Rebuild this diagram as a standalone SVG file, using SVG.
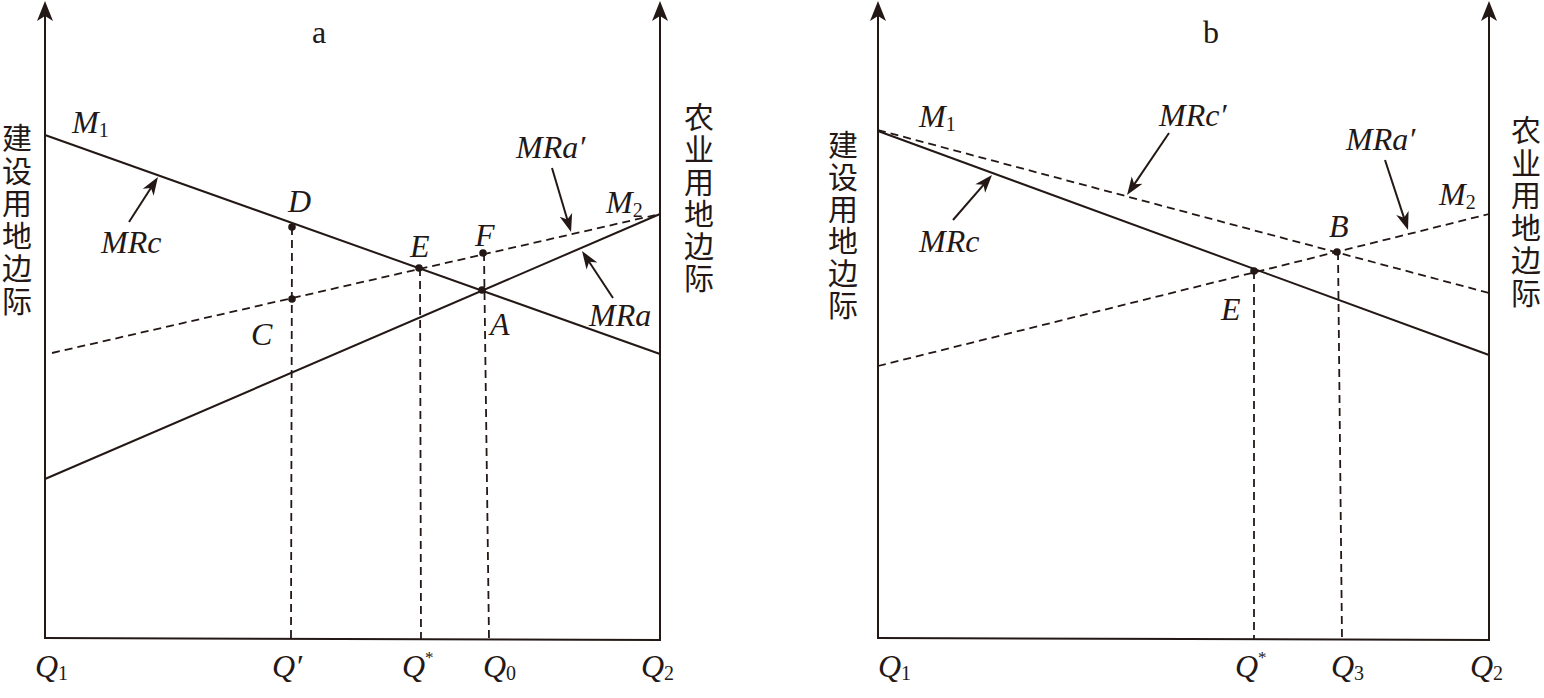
<svg xmlns="http://www.w3.org/2000/svg" width="1544" height="698" viewBox="0 0 1544 698">
<style>
.ax{stroke:#231815;stroke-width:2;fill:none}
.sl{stroke:#231815;stroke-width:2;fill:none}
.dl{stroke:#231815;stroke-width:1.8;fill:none;stroke-dasharray:8 5}
.pt{stroke:#231815;stroke-width:2;fill:none}
.dot{fill:#231815}
.lb{font-family:"Liberation Serif","Times New Roman",serif;font-style:italic;font-size:32px;fill:#231815}
.sub{font-style:normal;font-size:20px}
.sup{font-style:normal;font-size:17px}
.ttl{font-family:"Liberation Serif","Times New Roman",serif;font-size:32px;fill:#231815}
.cjk{font-family:"Liberation Serif","Noto Sans CJK SC",sans-serif;font-size:30px;fill:#231815;text-anchor:middle}
</style>
<defs>
<marker id="axh" viewBox="0 -9 21 18" markerWidth="21" markerHeight="18" refX="8" refY="0" orient="auto" markerUnits="userSpaceOnUse">
<path d="M20,0 L0,-8 L5,0 L0,8 Z" fill="#231815"/>
</marker>
<marker id="pth" viewBox="0 -7 19 14" markerWidth="19" markerHeight="14" refX="7" refY="0" orient="auto" markerUnits="userSpaceOnUse">
<path d="M18,0 L0,-6.5 L5,0 L0,6.5 Z" fill="#231815"/>
</marker>
</defs>
<rect width="1544" height="698" fill="#ffffff"/>

<g id="panel-a-axes">
<line class="ax" x1="45" y1="639" x2="45" y2="13" marker-end="url(#axh)"/>
<line class="ax" x1="660" y1="640" x2="660" y2="13" marker-end="url(#axh)"/>
<line class="ax" x1="44" y1="638" x2="661" y2="640"/>
</g>
<g id="panel-b-axes">
<line class="ax" x1="878" y1="639" x2="878" y2="13" marker-end="url(#axh)"/>
<line class="ax" x1="1489" y1="640" x2="1489" y2="13" marker-end="url(#axh)"/>
<line class="ax" x1="877" y1="638" x2="1490" y2="640"/>
</g>

<g id="connectors">
<line class="sl" x1="45" y1="135" x2="660" y2="354"/>
<line class="sl" x1="45" y1="479" x2="660" y2="214"/>
<line class="dl" x1="52" y1="353" x2="660" y2="214"/>
<line class="dl" x1="292" y1="227" x2="291" y2="638"/>
<line class="dl" x1="420" y1="268" x2="421" y2="639"/>
<line class="dl" x1="484" y1="253" x2="489" y2="639"/>
<line class="pt" x1="129" y1="222" x2="152" y2="186.3" marker-end="url(#pth)"/>
<line class="pt" x1="552" y1="168" x2="567.9" y2="221.5" marker-end="url(#pth)"/>
<line class="pt" x1="613" y1="298" x2="588.1" y2="260.2" marker-end="url(#pth)"/>
<line class="sl" x1="878" y1="131" x2="1489" y2="355"/>
<line class="dl" x1="878" y1="130" x2="1489" y2="293"/>
<line class="dl" x1="878" y1="366" x2="1489" y2="214"/>
<line class="dl" x1="1254" y1="271" x2="1254" y2="639"/>
<line class="dl" x1="1338" y1="252" x2="1342" y2="639"/>
<line class="pt" x1="953" y1="220" x2="984.8" y2="183.3" marker-end="url(#pth)"/>
<line class="pt" x1="1169" y1="133" x2="1133.2" y2="185.9" marker-end="url(#pth)"/>
<line class="pt" x1="1385" y1="160" x2="1404.6" y2="219.6" marker-end="url(#pth)"/>
</g>

<g id="points">
<circle class="dot" cx="292" cy="227" r="3.8"/>
<circle class="dot" cx="292" cy="299" r="3.8"/>
<circle class="dot" cx="419" cy="268" r="3.8"/>
<circle class="dot" cx="483" cy="253" r="3.8"/>
<circle class="dot" cx="482" cy="290" r="3.8"/>
<circle class="dot" cx="1254" cy="271" r="3.8"/>
<circle class="dot" cx="1337" cy="252" r="3.8"/>
</g>

<g id="titles">
<text class="ttl" x="312" y="43">a</text>
<text class="ttl" x="1203" y="43">b</text>
</g>

<g id="axis-labels">
<text class="cjk" x="17"><tspan x="17" y="149">建</tspan><tspan x="17" y="181.5">设</tspan><tspan x="17" y="214">用</tspan><tspan x="17" y="246.5">地</tspan><tspan x="17" y="279">边</tspan><tspan x="17" y="311.5">际</tspan></text>
<text class="cjk" x="699"><tspan x="699" y="128">农</tspan><tspan x="699" y="160">业</tspan><tspan x="699" y="192.5">用</tspan><tspan x="699" y="225">地</tspan><tspan x="699" y="257">边</tspan><tspan x="699" y="289">际</tspan></text>
<text class="cjk" x="843"><tspan x="843" y="156">建</tspan><tspan x="843" y="188">设</tspan><tspan x="843" y="220">用</tspan><tspan x="843" y="252">地</tspan><tspan x="843" y="284">边</tspan><tspan x="843" y="316">际</tspan></text>
<text class="cjk" x="1526"><tspan x="1526" y="141">农</tspan><tspan x="1526" y="173.5">业</tspan><tspan x="1526" y="206">用</tspan><tspan x="1526" y="238.5">地</tspan><tspan x="1526" y="271">边</tspan><tspan x="1526" y="303.5">际</tspan></text>
</g>

<g id="labels-a">
<text class="lb" x="72" y="133">M<tspan class="sub" dy="4">1</tspan></text>
<text class="lb" x="101" y="253">MRc</text>
<text class="lb" x="288" y="212">D</text>
<text class="lb" x="251" y="345">C</text>
<text class="lb" x="410" y="257">E</text>
<text class="lb" x="475" y="246">F</text>
<text class="lb" x="490" y="335">A</text>
<text class="lb" x="516" y="158">MRa′</text>
<text class="lb" x="606" y="213">M<tspan class="sub" dy="4">2</tspan></text>
<text class="lb" x="589" y="326">MRa</text>
<text class="lb" x="35" y="677">Q<tspan class="sub" dy="3">1</tspan></text>
<text class="lb" x="272" y="677">Q′</text>
<text class="lb" x="402" y="677">Q<tspan class="sup" dy="-14">*</tspan></text>
<text class="lb" x="483" y="677">Q<tspan class="sub" dy="3">0</tspan></text>
<text class="lb" x="641" y="677">Q<tspan class="sub" dy="3">2</tspan></text>
</g>

<g id="labels-b">
<text class="lb" x="919" y="127">M<tspan class="sub" dy="4">1</tspan></text>
<text class="lb" x="1159" y="126">MRc′</text>
<text class="lb" x="1346" y="150">MRa′</text>
<text class="lb" x="1439" y="205">M<tspan class="sub" dy="4">2</tspan></text>
<text class="lb" x="1329" y="237">B</text>
<text class="lb" x="1221" y="320">E</text>
<text class="lb" x="919" y="252">MRc</text>
<text class="lb" x="878" y="677">Q<tspan class="sub" dy="3">1</tspan></text>
<text class="lb" x="1235" y="677">Q<tspan class="sup" dy="-14">*</tspan></text>
<text class="lb" x="1331" y="677">Q<tspan class="sub" dy="3">3</tspan></text>
<text class="lb" x="1470" y="677">Q<tspan class="sub" dy="3">2</tspan></text>
</g>
</svg>
